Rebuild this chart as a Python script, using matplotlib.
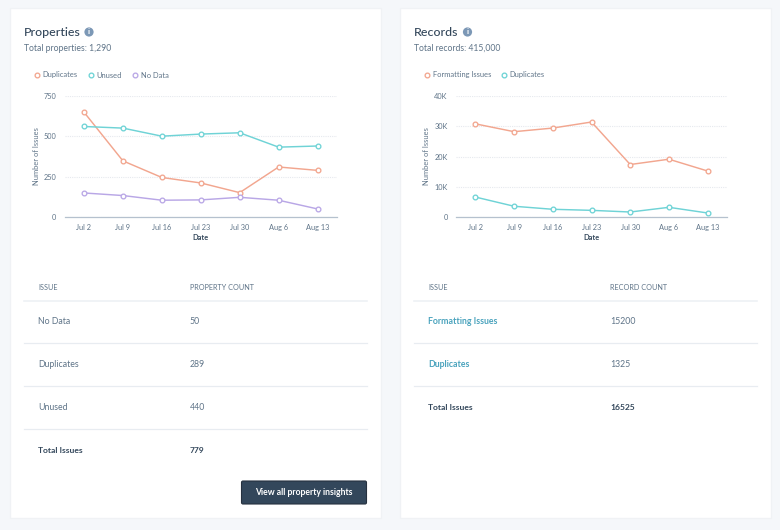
import matplotlib.pyplot as plt
from matplotlib.lines import Line2D
from matplotlib.patches import Circle, FancyBboxPatch, Rectangle

dates = ['Jul 2', 'Jul 9', 'Jul 16', 'Jul 23', 'Jul 30', 'Aug 6', 'Aug 13']

prop_duplicates = [650, 348, 245, 211, 151, 310, 289]
prop_unused = [561, 551, 501, 514, 522, 433, 440]
prop_no_data = [149, 133, 104, 106, 122, 104, 50]
prop_ticks = [0, 250, 500, 750]
prop_tick_labels = ['0', '250', '500', '750']

rec_formatting = [30800, 28200, 29400, 31400, 17350, 19100, 15200]
rec_duplicates = [6600, 3550, 2550, 2200, 1650, 3200, 1325]
rec_ticks = [0, 10000, 20000, 30000, 40000]
rec_tick_labels = ['0', '10K', '20K', '30K', '40K']

prop_issues = ['No Data', 'Duplicates', 'Unused']
prop_counts = ['50', '289', '440']
prop_total = '779'
rec_issues = ['Formatting Issues', 'Duplicates']
rec_counts = ['15200', '1325']
rec_total = '16525'

ORANGE = '#f2a68f'
TEAL = '#6fd3d6'
PURPLE = '#b9a7e6'
DARK = '#33475b'
GREY = '#5f7488'
LINK = '#4aa3bd'
W, H = 780, 530

plt.rcParams['font.family'] = ['Lato', 'DejaVu Sans']

fig = plt.figure(figsize=(7.8, 5.3), dpi=100, facecolor='#f5f7fa')

# page layer in pixel coordinates, y going down
bg = fig.add_axes([0, 0, 1, 1])
bg.set_xlim(0, W)
bg.set_ylim(H, 0)
bg.axis('off')


def draw_card(left, title, icon_x, subtitle, col_x, col_name, issues, counts, total, issue_color):
    bg.add_patch(Rectangle((left, 8), 371, 510, facecolor='white', edgecolor='#f0f2f5', linewidth=1))
    bg.text(left + 14, 36, title, fontsize=8.9, color=DARK, va='baseline', fontweight='medium')
    bg.add_patch(Circle((icon_x, 32), 4.6, facecolor='#7c98b6', edgecolor='none'))
    bg.text(icon_x, 32, 'i', fontsize=6, color='white', va='center', ha='center', fontweight='bold')
    bg.text(left + 14, 51, subtitle, fontsize=6.2, color=GREY, va='baseline')

    bg.text(left + 28.5, 290, 'ISSUE', fontsize=5.2, color=GREY, va='baseline')
    bg.text(col_x, 290, col_name, fontsize=5.2, color=GREY, va='baseline')
    bg.plot([left + 14, left + 357], [300.5, 300.5], color='#eef1f5', lw=1.2)

    y = 321
    for issue, count in zip(issues, counts):
        weight = 'bold' if issue_color == LINK else 'normal'
        bg.text(left + 28.5, y + 3, issue, fontsize=6.3, color=issue_color, va='baseline', fontweight=weight)
        bg.text(col_x, y + 3, count, fontsize=6.3, color=GREY, va='baseline')
        bg.plot([left + 14, left + 357], [y + 21.5, y + 21.5], color='#e8ecf1', lw=0.9)
        y += 43
    bg.text(left + 28.5, y + 3, 'Total Issues', fontsize=6.1, color=DARK, va='baseline', fontweight='bold')
    bg.text(col_x, y + 3, total, fontsize=6.1, color=DARK, va='baseline', fontweight='bold')


def draw_chart(left_px, right_px, series, ticks, tick_labels, ylabel_x, legend_x):
    ax = fig.add_axes([left_px / W, 1 - 217 / H, (right_px - left_px) / W, 121 / H])
    ax.patch.set_alpha(0)
    handles = []
    for values, color, label in series:
        ax.plot(range(len(dates)), values, color=color, lw=1.05, marker='o', ms=3.4,
                mfc='white', mec=color, mew=0.95, clip_on=False, zorder=3)
        handles.append(Line2D([], [], ls='none', marker='o', ms=3.4, mfc='white', mec=color, mew=0.95, label=label))
    ax.set_xlim(-0.5, 6.5)
    ax.set_ylim(ticks[0], ticks[-1])
    ax.set_xticks(range(len(dates)), dates)
    ax.set_yticks(ticks, tick_labels)
    ax.tick_params(length=0, labelsize=5.3, labelcolor=GREY, pad=5)
    ax.tick_params(axis='y', pad=6)
    ax.grid(axis='y', color='#e6e9ee', lw=0.8, ls=(0, (1, 1)))
    ax.set_axisbelow(True)
    for side in ['top', 'right', 'left']:
        ax.spines[side].set_visible(False)
    ax.spines['bottom'].set_color('#b5c1ce')
    ax.spines['bottom'].set_linewidth(0.9)
    ax.set_xlabel('Date', fontsize=5.3, color=DARK, fontweight='bold', labelpad=2.2)
    bg.text(ylabel_x, 156.5, 'Number of Issues', fontsize=5.4, color=GREY, rotation=90, va='center', ha='center')
    ax.legend(handles=handles, ncol=len(handles), frameon=False, fontsize=5.4, labelcolor=GREY,
              loc='center left', bbox_to_anchor=(legend_x / W, 1 - 75 / H), bbox_transform=fig.transFigure,
              handlelength=0.5, handletextpad=0.45, columnspacing=1.55, borderpad=0, borderaxespad=0)


draw_card(10, 'Properties', 89, 'Total properties: 1,290', 189.5, 'PROPERTY COUNT',
          prop_issues, prop_counts, prop_total, GREY)
draw_card(400, 'Records', 467.5, 'Total records: 415,000', 610, 'RECORD COUNT',
          rec_issues, rec_counts, rec_total, LINK)

# button
bg.add_patch(FancyBboxPatch((241.5, 481), 125, 23, boxstyle='round,pad=0,rounding_size=1.5',
                            facecolor='#33475b', edgecolor='#26313f', linewidth=0.8))
bg.text(304, 495, 'View all property insights', fontsize=6.2, color='white', va='baseline',
        ha='center', fontweight='bold')

draw_chart(64.5, 337, [(prop_duplicates, ORANGE, 'Duplicates'), (prop_unused, TEAL, 'Unused'),
                       (prop_no_data, PURPLE, 'No Data')],
           prop_ticks, prop_tick_labels, 36.5, 35.5)
draw_chart(456, 727, [(rec_formatting, ORANGE, 'Formatting Issues'), (rec_duplicates, TEAL, 'Duplicates')],
           rec_ticks, rec_tick_labels, 426.5, 425.5)

fig.savefig('out.png', dpi=100, facecolor=fig.get_facecolor())
